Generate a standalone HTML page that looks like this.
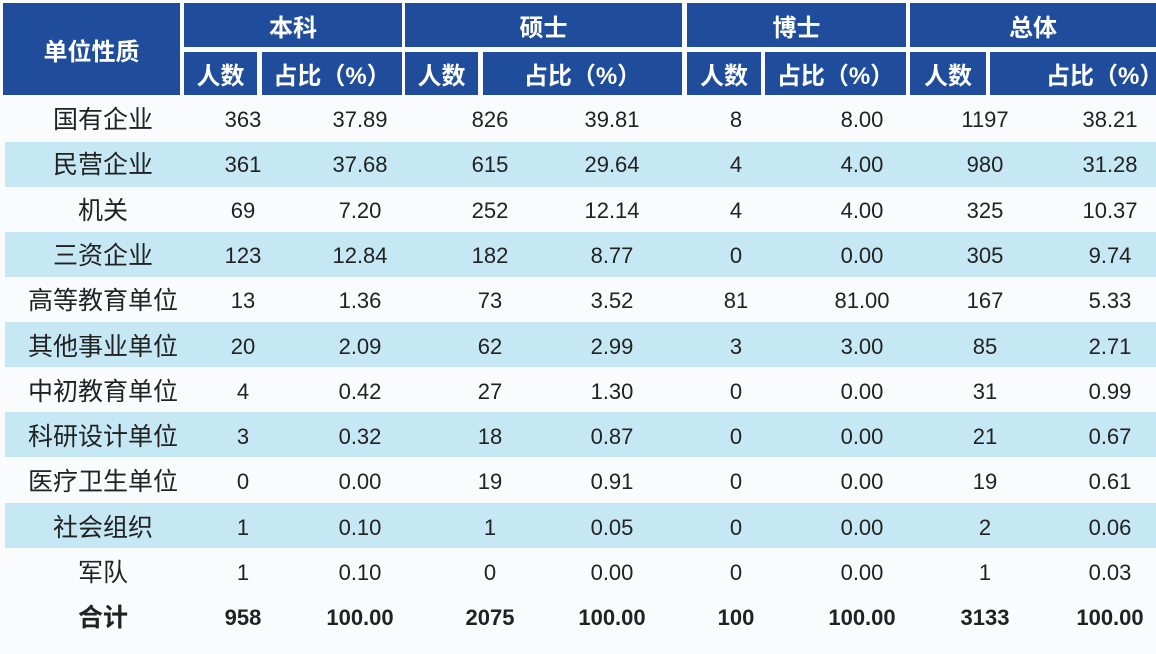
<!DOCTYPE html>
<html><head><meta charset="utf-8"><style>
body{margin:0;width:1156px;height:654px;background:#fafbfd;position:relative;overflow:hidden;font-family:"Liberation Sans","Noto Sans CJK SC",sans-serif;}
.h{position:absolute;background:#1f4d9c;color:#fff;font-weight:bold;font-size:24px;display:flex;align-items:center;justify-content:center;}
.b{position:absolute;left:5px;width:1151px;height:45px;background:#c6e8f5;}
.t{position:absolute;transform:translate(-50%,-50%);font-size:22px;color:#222;white-space:nowrap;}
.n{font-size:25px;margin-top:-2px;}
.bold{font-weight:bold;}
</style></head><body>
<div class="h" style="left:3px;top:3px;width:177px;height:92px">单位性质</div>
<div class="h" style="left:184px;top:3px;width:218px;height:44px">本科</div>
<div class="h" style="left:405px;top:3px;width:277px;height:44px">硕士</div>
<div class="h" style="left:687px;top:3px;width:219px;height:44px">博士</div>
<div class="h" style="left:910px;top:3px;width:246px;height:44px">总体</div>
<div class="h" style="left:184px;top:52px;width:73px;height:43px">人数</div>
<div class="h" style="left:262px;top:52px;width:140px;height:43px">占比（%）</div>
<div class="h" style="left:405px;top:52px;width:73px;height:43px">人数</div>
<div class="h" style="left:483px;top:52px;width:199px;height:43px">占比（%）</div>
<div class="h" style="left:687px;top:52px;width:74px;height:43px">人数</div>
<div class="h" style="left:765px;top:52px;width:141px;height:43px">占比（%）</div>
<div class="h" style="left:910px;top:52px;width:76px;height:43px">人数</div>
<div class="h" style="left:990px;top:52px;width:166px;height:43px;justify-content:flex-start;padding-left:56px;box-sizing:border-box">占比（%）</div>
<div class="b" style="top:142px"></div>
<div class="b" style="top:232px"></div>
<div class="b" style="top:322px"></div>
<div class="b" style="top:412px"></div>
<div class="b" style="top:503px"></div>
<div id="rows"></div>
<script>
var d=[["国有企业","363","37.89","826","39.81","8","8.00","1197","38.21"],
["民营企业","361","37.68","615","29.64","4","4.00","980","31.28"],
["机关","69","7.20","252","12.14","4","4.00","325","10.37"],
["三资企业","123","12.84","182","8.77","0","0.00","305","9.74"],
["高等教育单位","13","1.36","73","3.52","81","81.00","167","5.33"],
["其他事业单位","20","2.09","62","2.99","3","3.00","85","2.71"],
["中初教育单位","4","0.42","27","1.30","0","0.00","31","0.99"],
["科研设计单位","3","0.32","18","0.87","0","0.00","21","0.67"],
["医疗卫生单位","0","0.00","19","0.91","0","0.00","19","0.61"],
["社会组织","1","0.10","1","0.05","0","0.00","2","0.06"],
["军队","1","0.10","0","0.00","0","0.00","1","0.03"],
["合计","958","100.00","2075","100.00","100","100.00","3133","100.00"]];
var xs=[103,243,360,490,612,736,862,985,1110],h="";
d.forEach(function(r,i){var y=120+i*45.3;r.forEach(function(c,j){
h+='<div class="t'+(j==0?' n':'')+(i==11?' bold':'')+'" style="left:'+xs[j]+'px;top:'+y+'px">'+c+'</div>';});});
document.getElementById("rows").innerHTML=h;
</script>
</body></html>
